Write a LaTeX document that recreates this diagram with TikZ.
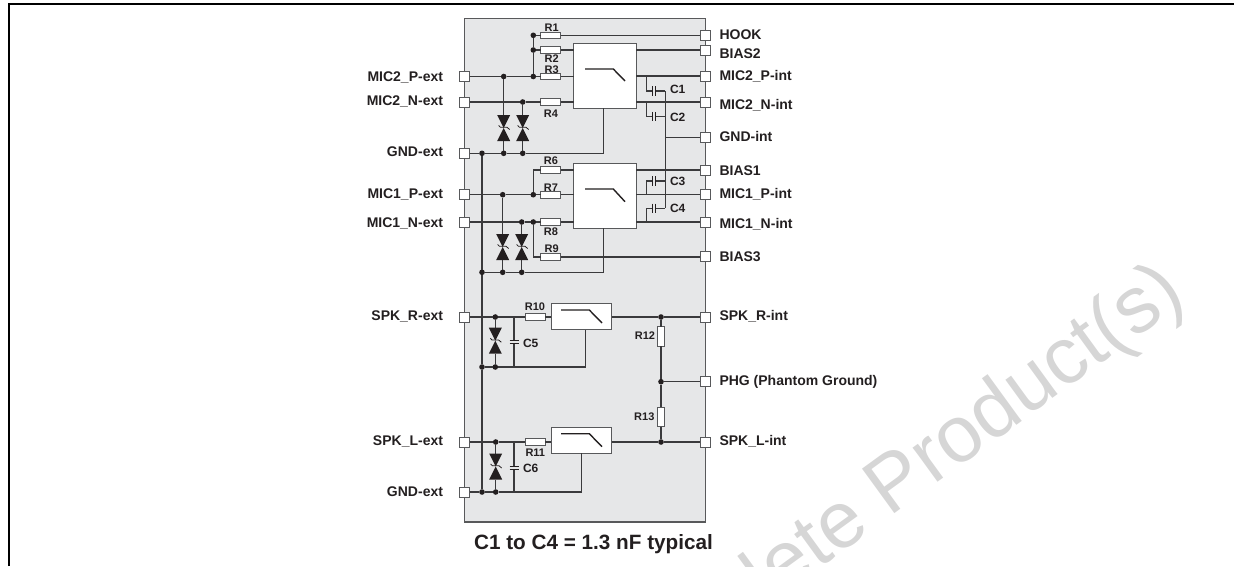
\documentclass[tikz,border=0pt]{standalone}
\usepackage{fontspec}
\setmainfont{Liberation Sans}
\definecolor{chip}{HTML}{E6E7E8}
\definecolor{wire}{HTML}{3A3A3C}
\definecolor{edgegray}{HTML}{58595B}
\definecolor{mark}{HTML}{D6D6D6}
\definecolor{ink}{HTML}{231F20}
\tikzset{
  chipbox/.style={draw=edgegray,fill=chip,line width=1.1pt},
  term/.style={draw=edgegray,fill=white,line width=0.8pt,minimum size=10pt,inner sep=0pt,outer sep=0pt},
  filterbox/.style={draw=edgegray,fill=white,line width=0.9pt,inner sep=0pt,outer sep=0pt},
  filterline/.style={draw=ink,line width=1.4pt},
  res/.style={draw=edgegray,fill=white,line width=0.8pt,minimum width=20pt,minimum height=6.5pt,inner sep=0pt,outer sep=0pt},
  vres/.style={draw=edgegray,fill=white,line width=0.8pt,minimum width=6.5pt,minimum height=19.5pt,inner sep=0pt,outer sep=0pt},
  dot/.style={circle,fill=ink,minimum size=5.6pt,inner sep=0pt,outer sep=0pt},
  w/.style={draw=wire,line width=1.2pt},
  capH/.style={minimum width=3.4pt,minimum height=9.5pt,inner sep=0pt,outer sep=0pt},
  capV/.style={minimum width=9pt,minimum height=3.3pt,inner sep=0pt,outer sep=0pt},
  plate/.style={draw=ink,line width=1pt},
  zbox/.style={minimum width=13pt,minimum height=26pt,inner sep=0pt,outer sep=0pt},
  pinl/.style={font=\fontsize{14}{15}\bfseries,text=ink,inner sep=0pt,outer sep=0pt,text height=9.8pt,text depth=0pt},
  small/.style={font=\fontsize{11}{12}\bfseries,text=ink,inner sep=0pt,outer sep=0pt,text height=7.8pt,text depth=0pt,anchor=center},
  capl/.style={font=\fontsize{12}{13}\bfseries,text=ink,inner sep=0pt,outer sep=0pt,text height=8.6pt,text depth=0pt},
}
\newcommand{\zenerdraw}[1]{%
  \fill[ink] (#1.north west)--(#1.north east)--(#1.center)--cycle;
  \fill[ink] (#1.south west)--(#1.south east)--(#1.center)--cycle;
  \draw[ink,line width=0.8pt] ([shift={(-5,-2.5)}]#1.center)--([shift={(-3.3,-0.7)}]#1.center)--([shift={(3.3,-0.7)}]#1.center)--([shift={(6,1.5)}]#1.center);
}
\newcommand{\plateH}[1]{\draw[plate] (#1.north west)--(#1.south west) (#1.north east)--(#1.south east);}
\newcommand{\plateV}[1]{\draw[plate] (#1.north west)--(#1.north east) (#1.south west)--(#1.south east);}
\begin{document}
\begin{tikzpicture}[x=1pt,y=-1pt]
\useasboundingbox (0,0) rectangle (1234,566);
% watermark
\begin{scope}
\clip (0,0) rectangle (1234,566);
\node[anchor=base west,rotate=36,inner sep=0pt,outer sep=0pt,text=mark,font=\fontsize{80}{90}\selectfont] (wm) at (613,718.5) {Obsolete Product(s)};
\end{scope}
% page frame
\coordinate (fa) at (9,566);
\coordinate (fb) at (9,3.5);
\coordinate (fc) at (1234,3.5);
\draw[black,line width=2pt] (fa)--(fb)--(fc);
% chip
\node[chipbox,minimum width=240.6pt,minimum height=503.3pt,inner sep=0pt,outer sep=0pt,anchor=north west] (chip) at (464.7,18.7) {};
% terminals left
\node[term] (L1) at (464.7,76) {};
\node[term] (L2) at (464.7,102) {};
\node[term] (L3) at (464.7,153.3) {};
\node[term] (L4) at (464.7,194.7) {};
\node[term] (L5) at (464.7,222) {};
\node[term] (L6) at (464.7,317) {};
\node[term] (L7) at (464.7,442) {};
\node[term] (L8) at (464.7,492) {};
% terminals right
\node[term] (R1) at (705.3,35.3) {};
\node[term] (R2) at (705.3,50) {};
\node[term] (R3) at (705.3,76) {};
\node[term] (R4) at (705.3,102) {};
\node[term] (R5) at (705.3,137.3) {};
\node[term] (R6) at (705.3,170) {};
\node[term] (R7) at (705.3,194.7) {};
\node[term] (R8) at (705.3,222) {};
\node[term] (R9) at (705.3,256.7) {};
\node[term] (R10) at (705.3,317) {};
\node[term] (R11) at (705.3,381.7) {};
\node[term] (R12) at (705.3,442) {};
% filters
\node[filterbox,minimum width=62.6pt,minimum height=65pt,anchor=north west] (F1) at (573.7,43.3) {};
\node[filterbox,minimum width=62.6pt,minimum height=64.7pt,anchor=north west] (F2) at (573.7,163.3) {};
\node[filterbox,minimum width=60.7pt,minimum height=26pt,anchor=north west] (F3) at (551,303.7) {};
\node[filterbox,minimum width=60.7pt,minimum height=26pt,anchor=north west] (F4) at (551,427.3) {};
\draw[filterline] (585,69)--(613.3,69)--(625,81);
\draw[filterline] (585,189)--(613.3,189)--(625,201.7);
\draw[filterline] (561,310)--(589.3,310)--(602,323);
\draw[filterline] (561,433.7)--(589.3,433.7)--(602,446.7);
% resistors
\node[res] (r1) at (550.7,35.3) {};
\node[res] (r2) at (550.7,50) {};
\node[res] (r3) at (550.7,76.5) {};
\node[res] (r4) at (550.7,102) {};
\node[res] (r6) at (550.7,170) {};
\node[res] (r7) at (550.7,194.7) {};
\node[res] (r8) at (550.7,222) {};
\node[res] (r9) at (550.7,257) {};
\node[res] (r10) at (535,317) {};
\node[res] (r11) at (535,442) {};
\node[vres] (r12) at (661,336.3) {};
\node[vres] (r13) at (661,417) {};
% junctions
\node[dot] (a1) at (533.3,35.3) {};
\node[dot] (a2) at (533.3,50) {};
\node[dot] (a3) at (533.3,76.5) {};
\node[dot] (a4) at (503.7,76.5) {};
\node[dot] (a5) at (522.7,102) {};
\node[dot] (g1) at (482,153.3) {};
\node[dot] (g2) at (503.7,153.3) {};
\node[dot] (g3) at (522.7,153.3) {};
\node[dot] (b3) at (533.3,194.7) {};
\node[dot] (b4) at (502.7,194.7) {};
\node[dot] (b5) at (521.7,222) {};
\node[dot] (b6) at (533.3,222) {};
\node[dot] (g4) at (482,272.3) {};
\node[dot] (g5) at (502.7,272.3) {};
\node[dot] (g6) at (521.7,272.3) {};
\node[dot] (d1) at (495.3,317) {};
\node[dot] (g7) at (482,367) {};
\node[dot] (g8) at (495.3,367) {};
\node[dot] (d2) at (495.7,442) {};
\node[dot] (g9) at (482,492) {};
\node[dot] (g10) at (495.7,492) {};
\node[dot] (e1) at (661,317) {};
\node[dot] (e2) at (661,381.7) {};
\node[dot] (e3) at (661,442) {};
% corners / routing points
\coordinate (c3a) at (533.3,170);
\coordinate (c9a) at (533.3,257);
\coordinate (f1b) at (603.3,153.3);
\coordinate (f2b) at (603.3,272.3);
\coordinate (f3b) at (585.3,367);
\coordinate (f4b) at (581.7,492);
% zeners
\node[zbox] (z1) at (503.7,128) {};
\node[zbox] (z2) at (522.7,128) {};
\node[zbox] (z3) at (502.7,247) {};
\node[zbox] (z4) at (521.7,247) {};
\node[zbox] (z5) at (495.3,340.7) {};
\node[zbox] (z6) at (495.7,466.5) {};
% capacitors
\node[capH] (c1) at (654,91) {};
\node[capH] (c2) at (654,116.7) {};
\node[capH] (c3) at (654,181) {};
\node[capH] (c4) at (654,208.3) {};
\node[capV] (c5) at (514,341.7) {};
\node[capV] (c6) at (514,467.7) {};
\coordinate (c1t) at (646.7,76);
\coordinate (c1c) at (646.7,91);
\coordinate (c2t) at (646.7,102);
\coordinate (c2c) at (646.7,116.7);
\coordinate (c3t) at (646.7,194.7);
\coordinate (c3c) at (646.7,181);
\coordinate (c4t) at (646.7,222);
\coordinate (c4c) at (646.7,208.3);
\coordinate (cb1) at (665.3,91);
\coordinate (cb2) at (665.3,116.7);
\coordinate (cb3) at (665.3,181);
\coordinate (cb4) at (665.3,208.3);
\coordinate (cb5) at (665.3,137.3);
\coordinate (c5t) at (514,317);
\coordinate (c5b) at (514,367);
\coordinate (c6t) at (514,442);
\coordinate (c6b) at (514,492);
% wires
\path[w] (a1)--(r1.west) (r1.east)--(R1.west);
\path[w] (a2)--(r2.west) (r2.east)--(r2.east -| F1.west);
\path[w] (F1.east |- R2)--(R2.west);
\path[w] (a1)--(a2)--(a3);
\path[w] (L1.east |- a4)--(a4)--(a3)--(r3.west) (r3.east)--(r3.east -| F1.west);
\path[w] (F1.east |- R3)--(R3.west);
\path[w] (L2.east)--(a5)--(r4.west) (r4.east)--(r4.east -| F1.west);
\path[w] (F1.east |- R4)--(R4.west);
\path[w] (L3.east)--(g1)--(g2)--(g3)--(f1b)--(f1b |- F1.south);
\path[w] (a4)--(z1.north) (z1.south)--(g2);
\path[w] (a5)--(z2.north) (z2.south)--(g3);
\path[w] (g1)--(g4)--(g7)--(g9);
\path[w] (c1t)--(c1c)--(c1.west) (c1.east)--(cb1);
\path[w] (c2t)--(c2c)--(c2.west) (c2.east)--(cb2);
\path[w] (cb1)--(cb4);
\path[w] (cb5)--(R5.west);
\path[w] (c3t)--(c3c)--(c3.west) (c3.east)--(cb3);
\path[w] (c4t)--(c4c)--(c4.west) (c4.east)--(cb4);
\path[w] (F2.east |- R6)--(R6.west);
\path[w] (F2.east |- R7)--(R7.west);
\path[w] (F2.east |- R8)--(R8.west);
\path[w] (b3)--(c3a)--(r6.west) (r6.east)--(r6.east -| F2.west);
\path[w] (L4.east)--(b4)--(b3)--(r7.west) (r7.east)--(r7.east -| F2.west);
\path[w] (L5.east)--(b5)--(b6)--(r8.west) (r8.east)--(r8.east -| F2.west);
\path[w] (b6)--(c9a)--(r9.west) (r9.east)--(R9.west |- r9);
\path[w] (b4)--(z3.north) (z3.south)--(g5);
\path[w] (b5)--(z4.north) (z4.south)--(g6);
\path[w] (g4)--(g5)--(g6)--(f2b)--(f2b |- F2.south);
\path[w] (L6.east)--(d1)--(r10.west) (r10.east)--(F3.west |- r10);
\path[w] (d1)--(z5.north) (z5.south)--(g8);
\path[w] (c5t)--(c5.north) (c5.south)--(c5b);
\path[w] (g7)--(g8)--(f3b)--(f3b |- F3.south);
\path[w] (F3.east |- R10)--(e1)--(R10.west);
\path[w] (e1)--(r12.north) (r12.south)--(e2)--(r13.north) (r13.south)--(e3);
\path[w] (e2)--(R11.west);
\path[w] (L7.east)--(d2)--(r11.west) (r11.east)--(F4.west |- r11);
\path[w] (d2)--(z6.north) (z6.south)--(g10);
\path[w] (c6t)--(c6.north) (c6.south)--(c6b);
\path[w] (L8.east)--(g9)--(g10)--(f4b)--(f4b |- F4.south);
\path[w] (F4.east |- R12)--(e3)--(R12.west);
% component symbols
\zenerdraw{z1}\zenerdraw{z2}\zenerdraw{z3}\zenerdraw{z4}\zenerdraw{z5}\zenerdraw{z6}
\plateH{c1}\plateH{c2}\plateH{c3}\plateH{c4}\plateV{c5}\plateV{c6}
% pin labels left
\node[pinl,anchor=east] (tL1) at (443,77) {MIC2\_P-ext};
\node[pinl,anchor=east] (tL2) at (443,101) {MIC2\_N-ext};
\node[pinl,anchor=east] (tL3) at (443,152) {GND-ext};
\node[pinl,anchor=east] (tL4) at (443,194) {MIC1\_P-ext};
\node[pinl,anchor=east] (tL5) at (443,223) {MIC1\_N-ext};
\node[pinl,anchor=east] (tL6) at (443,316) {SPK\_R-ext};
\node[pinl,anchor=east] (tL7) at (443,441) {SPK\_L-ext};
\node[pinl,anchor=east] (tL8) at (443,492) {GND-ext};
% pin labels right
\node[pinl,anchor=west] (tR1) at (719.5,35) {HOOK};
\node[pinl,anchor=west] (tR2) at (719.5,54) {BIAS2};
\node[pinl,anchor=west] (tR3) at (719.5,76) {MIC2\_P-int};
\node[pinl,anchor=west] (tR4) at (719.5,105) {MIC2\_N-int};
\node[pinl,anchor=west] (tR5) at (719.5,137) {GND-int};
\node[pinl,anchor=west] (tR6) at (719.5,171) {BIAS1};
\node[pinl,anchor=west] (tR7) at (719.5,194) {MIC1\_P-int};
\node[pinl,anchor=west] (tR8) at (719.5,224) {MIC1\_N-int};
\node[pinl,anchor=west] (tR9) at (719.5,257) {BIAS3};
\node[pinl,anchor=west] (tR10) at (719.5,316) {SPK\_R-int};
\node[pinl,anchor=west] (tR11) at (719.5,381) {PHG (Phantom Ground)};
\node[pinl,anchor=west] (tR12) at (719.5,441) {SPK\_L-int};
% part labels
\node[small] (tr1) at (551.7,27.3) {R1};
\node[small] (tr2) at (551.7,59) {R2};
\node[small] (tr3) at (551.7,69.3) {R3};
\node[small] (tr4) at (551,113.3) {R4};
\node[small] (tr6) at (551,161) {R6};
\node[small] (tr7) at (551,187.3) {R7};
\node[small] (tr8) at (551,232) {R8};
\node[small] (tr9) at (551.7,249) {R9};
\node[small] (tr10) at (535,307) {R10};
\node[small] (tr11) at (535.3,453) {R11};
\node[small] (tr12) at (645,336) {R12};
\node[small] (tr13) at (644.3,417) {R13};
\node[capl,anchor=west] (tc1) at (670,89.5) {C1};
\node[capl,anchor=west] (tc2) at (670,116.7) {C2};
\node[capl,anchor=west] (tc3) at (670,181) {C3};
\node[capl,anchor=west] (tc4) at (670,208) {C4};
\node[capl,anchor=west] (tc5) at (523,342.7) {C5};
\node[capl,anchor=west] (tc6) at (523,468.3) {C6};
% note
\node[font=\fontsize{20.7}{23}\bfseries,text=ink,inner sep=0pt,outer sep=0pt,anchor=center] (note) at (593.5,544) {C1 to C4 = 1.3 nF typical};
\end{tikzpicture}
\end{document}
